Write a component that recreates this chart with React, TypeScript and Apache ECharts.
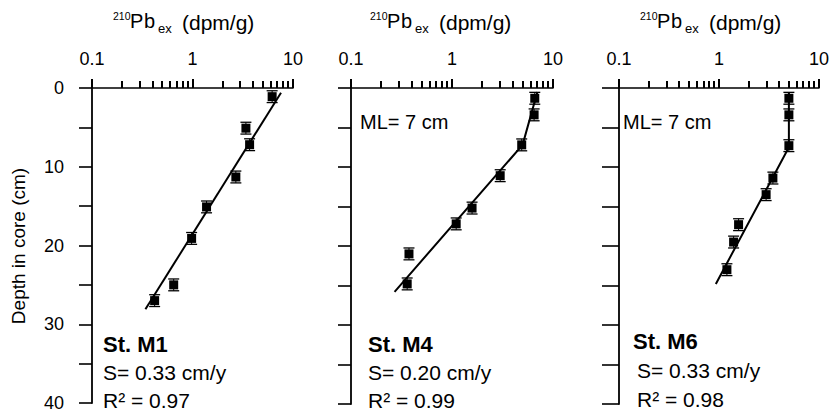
import React, { useEffect, useRef } from 'react';
import * as echarts from 'echarts';

// ---- data ----
const m1Values = [6.2, 3.4, 3.7, 2.7, 1.38, 0.98, 0.65, 0.42];
const m1Depths = [1.1, 5.1, 7.2, 11.3, 15.1, 19.1, 25.0, 27.0];
const m1Fit = [[7.6, 0.6], [0.34, 28.1]];

const m4Values = [6.6, 6.5, 4.9, 3.0, 1.58, 1.1, 0.375, 0.36];
const m4Depths = [1.3, 3.4, 7.2, 11.1, 15.2, 17.2, 21.0, 24.8];
const m4Fit = [[7.0, 0.5], [5.0, 7.2], [0.27, 25.8]];

const m6Values = [5.0, 5.0, 5.0, 3.46, 2.96, 1.57, 1.4, 1.2];
const m6Depths = [1.3, 3.4, 7.3, 11.4, 13.5, 17.3, 19.5, 23.0];
const m6Fit = [[5.0, 0.5], [5.0, 7.5], [0.93, 24.8]];

const errDepth = 0.75; // depth error bar half-length (cm)
const majorTicks = [0.1, 1, 10];
const minorTicks = [0.2, 0.3, 0.4, 0.5, 0.6, 0.7, 0.8, 0.9, 2, 3, 4, 5, 6, 7, 8, 9];
const xMin = 0.1;
const xMax = 10;
const yMin = 0;
const yMax = 40;
const yInterval = 5;

const stations = ['St. M1', 'St. M4', 'St. M6'];
const rates = ['S= 0.33 cm/y', 'S= 0.20 cm/y', 'S= 0.33 cm/y'];
const r2s = ['R² = 0.97', 'R² = 0.99', 'R² = 0.98'];
const mlText = 'ML= 7 cm';

const FONT = '"Liberation Sans", Arial, Helvetica, sans-serif';

export default function App() {
  const ref = useRef<HTMLDivElement>(null);

  useEffect(() => {
    if (!ref.current) return;
    const chart = echarts.init(ref.current, undefined, { renderer: 'svg' });

    const panels = [
      { values: m1Values, depths: m1Depths, fit: m1Fit, left: 92, width: 201, tick: 13 },
      { values: m4Values, depths: m4Depths, fit: m4Fit, left: 351, width: 202, tick: 13 },
      { values: m6Values, depths: m6Depths, fit: m6Fit, left: 619, width: 204, tick: 17 },
    ];

    const grid = panels.map((p) => ({ left: p.left, top: 88, width: p.width, height: 316 }));

    const xAxis = panels.map((p, i) => ({
      type: 'log',
      logBase: 10,
      gridIndex: i,
      position: 'top',
      min: xMin,
      max: xMax,
      axisLine: { show: true, lineStyle: { color: '#000', width: 1.6 } },
      axisTick: { show: false },
      axisLabel: {
        show: true,
        color: '#000',
        fontSize: 18,
        fontFamily: FONT,
        margin: 20,
        formatter: (v: number) => (v < 0.5 ? '0.1' : v < 5 ? '1' : '10'),
      },
      splitLine: { show: false },
    }));

    const yAxis = panels.map((p, i) => ({
      type: 'value',
      gridIndex: i,
      inverse: true,
      min: yMin,
      max: yMax,
      interval: yInterval,
      axisLine: { show: true, lineStyle: { color: '#000', width: 1.8 } },
      axisTick: { show: true, length: p.tick, inside: false, lineStyle: { color: '#000', width: 1.6 } },
      axisLabel: {
        show: i === 0,
        color: '#000',
        fontSize: 18,
        fontFamily: FONT,
        margin: 28,
        formatter: (v: number) => (v % 10 === 0 ? String(v) : ''),
      },
      splitLine: { show: false },
    }));

    const series: any[] = [];
    panels.forEach((p, i) => {
      series.push({
        type: 'line',
        xAxisIndex: i,
        yAxisIndex: i,
        data: p.fit,
        symbol: 'none',
        lineStyle: { color: '#000', width: 2 },
        silent: true,
      });
      series.push({
        type: 'custom',
        xAxisIndex: i,
        yAxisIndex: i,
        clip: false,
        z: 10,
        data: p.values.map((v, k) => [v, p.depths[k]]),
        renderItem: (params: any, api: any) => {
          const x = api.value(0);
          const y = api.value(1);
          const c = api.coord([x, y]);
          const t = api.coord([x, y - errDepth]);
          const b = api.coord([x, y + errDepth]);
          const hw = 5.5;
          const s = 9;
          const children: any[] = [
            { type: 'line', shape: { x1: c[0], y1: t[1], x2: c[0], y2: b[1] }, style: { stroke: '#000', lineWidth: 1 } },
            { type: 'line', shape: { x1: c[0] - hw, y1: t[1], x2: c[0] + hw, y2: t[1] }, style: { stroke: '#000', lineWidth: 1.3 } },
            { type: 'line', shape: { x1: c[0] - hw, y1: b[1], x2: c[0] + hw, y2: b[1] }, style: { stroke: '#000', lineWidth: 1.3 } },
            { type: 'rect', shape: { x: c[0] - s / 2, y: c[1] - s / 2, width: s, height: s }, style: { fill: '#000' } },
          ];
          if (params.dataIndex === 0) {
            minorTicks.forEach((mv) => {
              const m = api.coord([mv, yMin]);
              children.push({
                type: 'rect',
                shape: { x: Math.round(m[0]) - 1, y: m[1] - 7, width: 2, height: 7 },
                style: { fill: '#000' },
              });
            });
            majorTicks.forEach((mv) => {
              const m = api.coord([mv, yMin]);
              children.push({
                type: 'rect',
                shape: { x: Math.round(m[0]) - 1, y: m[1] - 9, width: 2, height: 9 },
                style: { fill: '#000' },
              });
            });
          }
          return { type: 'group', children };
        },
      });
    });

    const titleX = [113, 370, 640];
    const graphic: any[] = [];
    titleX.forEach((gx) => {
      graphic.push({
        type: 'group',
        x: gx,
        y: 0,
        children: [
          { type: 'text', x: 0, y: 16, style: { text: '210', font: `10.5px ${FONT}`, fill: '#000', align: 'left', verticalAlign: 'middle' } },
          { type: 'text', x: 17, y: 21, style: { text: 'P', font: `20px ${FONT}`, fill: '#000', align: 'left', verticalAlign: 'middle' } },
          { type: 'text', x: 31, y: 21, style: { text: 'b', font: `20px ${FONT}`, fill: '#000', align: 'left', verticalAlign: 'middle' } },
          { type: 'text', x: 45, y: 28, style: { text: 'ex', font: `13px ${FONT}`, fill: '#000', align: 'left', verticalAlign: 'middle' } },
          { type: 'text', x: 69, y: 22, style: { text: '(dpm/g)', font: `21px ${FONT}`, fill: '#000', align: 'left', verticalAlign: 'middle' } },
        ],
      });
    });

    graphic.push({
      type: 'text',
      x: 18,
      y: 246,
      rotation: Math.PI / 2,
      style: { text: 'Depth in core (cm)', font: `19px ${FONT}`, fill: '#000', align: 'center', verticalAlign: 'middle' },
    });

    const annX = [103, 368, 633];
    const annX2 = [103, 368, 637];
    const stY = [344, 344, 341];
    const sY = [372, 372, 370];
    const rY = [400, 400, 399];
    annX.forEach((ax, i) => {
      graphic.push({ type: 'text', x: ax, y: stY[i], style: { text: stations[i], font: `bold 22px ${FONT}`, fill: '#000', align: 'left', verticalAlign: 'middle' } });
      graphic.push({ type: 'text', x: annX2[i], y: sY[i], style: { text: rates[i], font: `21px ${FONT}`, fill: '#000', align: 'left', verticalAlign: 'middle' } });
      graphic.push({ type: 'text', x: annX2[i], y: rY[i], style: { text: r2s[i], font: `21px ${FONT}`, fill: '#000', align: 'left', verticalAlign: 'middle' } });
    });
    [360, 623].forEach((mx) => {
      graphic.push({ type: 'text', x: mx, y: 122, style: { text: mlText, font: `20px ${FONT}`, fill: '#000', align: 'left', verticalAlign: 'middle' } });
    });

    chart.setOption({
      animation: false,
      backgroundColor: '#fff',
      grid,
      xAxis,
      yAxis,
      series,
      graphic,
    });

    return () => chart.dispose();
  }, []);

  return <div ref={ref} style={{ position: 'fixed', left: 0, top: 0, width: 832, height: 412 }} />;
}
